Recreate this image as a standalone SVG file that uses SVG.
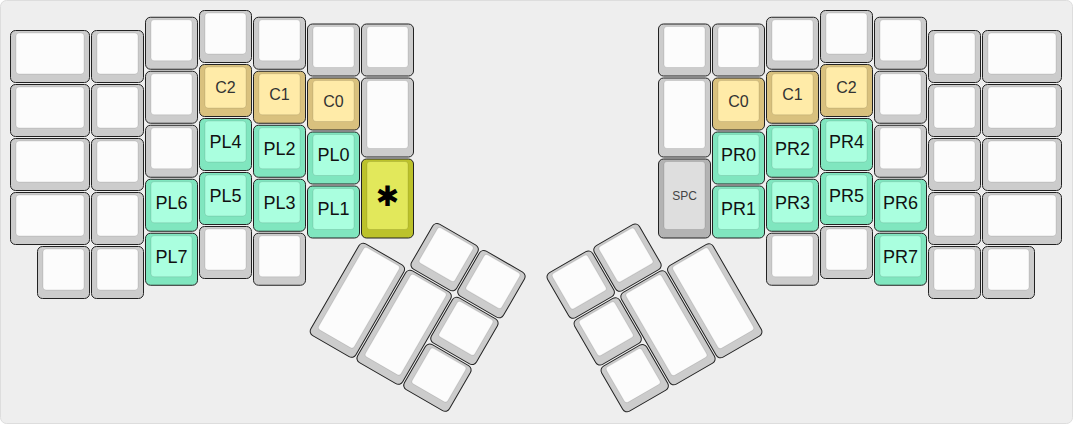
<svg xmlns="http://www.w3.org/2000/svg" width="1073" height="424" viewBox="0 0 1073 424">
<style>
.o{stroke:#222;stroke-width:1}
.i{stroke:rgba(0,0,0,0.1);stroke-width:1}
.k .o{fill:#cccccc}.k .i{fill:#fcfcfc}
.y .o{fill:#d9c17e}.y .i{fill:#ffeba8}
.g .o{fill:#80e6bf}.g .i{fill:#aaffdf}
.s .o{fill:#b3b3b3}.s .i{fill:#dedede}
.a .o{fill:#bcc22b}.a .i{fill:#e2e85b}
text{font-family:"Liberation Sans",Arial,sans-serif;text-anchor:middle}
.ty{font-size:16px;fill:#333}
.tg{font-size:18px;fill:#111}
.ts{font-size:12px;fill:#444}
</style>
<rect x="0.5" y="0.5" width="1072" height="423" rx="6" fill="#eeeeee" stroke="#dddddd"/>
<g id="keys-left">
<g id="L00" class="k"><rect class="o" x="10.5" y="30.5" width="79" height="52" rx="5"/><rect class="i" x="16" y="33" width="68" height="41" rx="3"/></g>
<g id="L01" class="k"><rect class="o" x="10.5" y="84.5" width="79" height="52" rx="5"/><rect class="i" x="16" y="87" width="68" height="41" rx="3"/></g>
<g id="L02" class="k"><rect class="o" x="10.5" y="138.5" width="79" height="52" rx="5"/><rect class="i" x="16" y="141" width="68" height="41" rx="3"/></g>
<g id="L03" class="k"><rect class="o" x="10.5" y="192.5" width="79" height="52" rx="5"/><rect class="i" x="16" y="195" width="68" height="41" rx="3"/></g>
<g id="L04" class="k"><rect class="o" x="37.5" y="246.5" width="52" height="52" rx="5"/><rect class="i" x="43" y="249" width="41" height="41" rx="3"/></g>
<g id="L10" class="k"><rect class="o" x="91.5" y="30.5" width="52" height="52" rx="5"/><rect class="i" x="97" y="33" width="41" height="41" rx="3"/></g>
<g id="L11" class="k"><rect class="o" x="91.5" y="84.5" width="52" height="52" rx="5"/><rect class="i" x="97" y="87" width="41" height="41" rx="3"/></g>
<g id="L12" class="k"><rect class="o" x="91.5" y="138.5" width="52" height="52" rx="5"/><rect class="i" x="97" y="141" width="41" height="41" rx="3"/></g>
<g id="L13" class="k"><rect class="o" x="91.5" y="192.5" width="52" height="52" rx="5"/><rect class="i" x="97" y="195" width="41" height="41" rx="3"/></g>
<g id="L14" class="k"><rect class="o" x="91.5" y="246.5" width="52" height="52" rx="5"/><rect class="i" x="97" y="249" width="41" height="41" rx="3"/></g>
<g id="L20" class="k"><rect class="o" x="145.5" y="17.25" width="52" height="52" rx="5"/><rect class="i" x="151" y="19.75" width="41" height="41" rx="3"/></g>
<g id="L21" class="k"><rect class="o" x="145.5" y="71.25" width="52" height="52" rx="5"/><rect class="i" x="151" y="73.75" width="41" height="41" rx="3"/></g>
<g id="L22" class="k"><rect class="o" x="145.5" y="125.25" width="52" height="52" rx="5"/><rect class="i" x="151" y="127.75" width="41" height="41" rx="3"/></g>
<g id="PL6" class="g"><rect class="o" x="145.5" y="179.25" width="52" height="52" rx="5"/><rect class="i" x="151" y="181.75" width="41" height="41" rx="3"/><text class="tg" x="171.5" y="208.65">PL6</text></g>
<g id="PL7" class="g"><rect class="o" x="145.5" y="233.25" width="52" height="52" rx="5"/><rect class="i" x="151" y="235.75" width="41" height="41" rx="3"/><text class="tg" x="171.5" y="262.65">PL7</text></g>
<g id="L30" class="k"><rect class="o" x="199.5" y="10.5" width="52" height="52" rx="5"/><rect class="i" x="205" y="13" width="41" height="41" rx="3"/></g>
<g id="LC2" class="y"><rect class="o" x="199.5" y="64.5" width="52" height="52" rx="5"/><rect class="i" x="205" y="67" width="41" height="41" rx="3"/><text class="ty" x="225.5" y="93.2">C2</text></g>
<g id="PL4" class="g"><rect class="o" x="199.5" y="118.5" width="52" height="52" rx="5"/><rect class="i" x="205" y="121" width="41" height="41" rx="3"/><text class="tg" x="225.5" y="147.9">PL4</text></g>
<g id="PL5" class="g"><rect class="o" x="199.5" y="172.5" width="52" height="52" rx="5"/><rect class="i" x="205" y="175" width="41" height="41" rx="3"/><text class="tg" x="225.5" y="201.9">PL5</text></g>
<g id="L34" class="k"><rect class="o" x="199.5" y="226.5" width="52" height="52" rx="5"/><rect class="i" x="205" y="229" width="41" height="41" rx="3"/></g>
<g id="L40" class="k"><rect class="o" x="253.5" y="17.25" width="52" height="52" rx="5"/><rect class="i" x="259" y="19.75" width="41" height="41" rx="3"/></g>
<g id="LC1" class="y"><rect class="o" x="253.5" y="71.25" width="52" height="52" rx="5"/><rect class="i" x="259" y="73.75" width="41" height="41" rx="3"/><text class="ty" x="279.5" y="99.95">C1</text></g>
<g id="PL2" class="g"><rect class="o" x="253.5" y="125.25" width="52" height="52" rx="5"/><rect class="i" x="259" y="127.75" width="41" height="41" rx="3"/><text class="tg" x="279.5" y="154.65">PL2</text></g>
<g id="PL3" class="g"><rect class="o" x="253.5" y="179.25" width="52" height="52" rx="5"/><rect class="i" x="259" y="181.75" width="41" height="41" rx="3"/><text class="tg" x="279.5" y="208.65">PL3</text></g>
<g id="L44" class="k"><rect class="o" x="253.5" y="233.25" width="52" height="52" rx="5"/><rect class="i" x="259" y="235.75" width="41" height="41" rx="3"/></g>
<g id="L50" class="k"><rect class="o" x="307.5" y="24" width="52" height="52" rx="5"/><rect class="i" x="313" y="26.5" width="41" height="41" rx="3"/></g>
<g id="LC0" class="y"><rect class="o" x="307.5" y="78" width="52" height="52" rx="5"/><rect class="i" x="313" y="80.5" width="41" height="41" rx="3"/><text class="ty" x="333.5" y="106.7">C0</text></g>
<g id="PL0" class="g"><rect class="o" x="307.5" y="132" width="52" height="52" rx="5"/><rect class="i" x="313" y="134.5" width="41" height="41" rx="3"/><text class="tg" x="333.5" y="161.4">PL0</text></g>
<g id="PL1" class="g"><rect class="o" x="307.5" y="186" width="52" height="52" rx="5"/><rect class="i" x="313" y="188.5" width="41" height="41" rx="3"/><text class="tg" x="333.5" y="215.4">PL1</text></g>
<g id="L60" class="k"><rect class="o" x="361.5" y="24" width="52" height="52" rx="5"/><rect class="i" x="367" y="26.5" width="41" height="41" rx="3"/></g>
<g id="L61" class="k"><rect class="o" x="361.5" y="78" width="52" height="79" rx="5"/><rect class="i" x="367" y="80.5" width="41" height="68" rx="3"/></g>
<g id="STAR" class="a"><rect class="o" x="361.5" y="159" width="52" height="79" rx="5"/><rect class="i" x="367" y="161.5" width="41" height="68" rx="3"/><text x="387.5" y="206" style="font-family:'DejaVu Sans',sans-serif;font-size:28px;fill:#000">✱</text></g>
</g>
<g id="thumb-left" transform="translate(361.2,240.7) rotate(30)">
<g id="LT1" class="k"><rect class="o" x="0.5" y="0.5" width="52" height="106" rx="5"/><rect class="i" x="6" y="3" width="41" height="95" rx="3"/></g>
<g id="LT2" class="k"><rect class="o" x="54.5" y="0.5" width="52" height="106" rx="5"/><rect class="i" x="60" y="3" width="41" height="95" rx="3"/></g>
<g id="LT3" class="k"><rect class="o" x="54.5" y="-53.5" width="52" height="52" rx="5"/><rect class="i" x="60" y="-51" width="41" height="41" rx="3"/></g>
<g id="LT4" class="k"><rect class="o" x="108.5" y="-53.5" width="52" height="52" rx="5"/><rect class="i" x="114" y="-51" width="41" height="41" rx="3"/></g>
<g id="LT5" class="k"><rect class="o" x="108.5" y="0.5" width="52" height="52" rx="5"/><rect class="i" x="114" y="3" width="41" height="41" rx="3"/></g>
<g id="LT6" class="k"><rect class="o" x="108.5" y="54.5" width="52" height="52" rx="5"/><rect class="i" x="114" y="57" width="41" height="41" rx="3"/></g>
</g>
<g id="keys-right">
<g id="R60" class="k"><rect class="o" x="658.5" y="24" width="52" height="52" rx="5"/><rect class="i" x="664" y="26.5" width="41" height="41" rx="3"/></g>
<g id="R61" class="k"><rect class="o" x="658.5" y="78" width="52" height="79" rx="5"/><rect class="i" x="664" y="80.5" width="41" height="68" rx="3"/></g>
<g id="SPC" class="s"><rect class="o" x="658.5" y="159" width="52" height="79" rx="5"/><rect class="i" x="664" y="161.5" width="41" height="68" rx="3"/><text class="ts" x="684.5" y="199.8">SPC</text></g>
<g id="R50" class="k"><rect class="o" x="712.5" y="24" width="52" height="52" rx="5"/><rect class="i" x="718" y="26.5" width="41" height="41" rx="3"/></g>
<g id="RC0" class="y"><rect class="o" x="712.5" y="78" width="52" height="52" rx="5"/><rect class="i" x="718" y="80.5" width="41" height="41" rx="3"/><text class="ty" x="738.5" y="106.7">C0</text></g>
<g id="PR0" class="g"><rect class="o" x="712.5" y="132" width="52" height="52" rx="5"/><rect class="i" x="718" y="134.5" width="41" height="41" rx="3"/><text class="tg" x="738.5" y="161.4">PR0</text></g>
<g id="PR1" class="g"><rect class="o" x="712.5" y="186" width="52" height="52" rx="5"/><rect class="i" x="718" y="188.5" width="41" height="41" rx="3"/><text class="tg" x="738.5" y="215.4">PR1</text></g>
<g id="R40" class="k"><rect class="o" x="766.5" y="17.25" width="52" height="52" rx="5"/><rect class="i" x="772" y="19.75" width="41" height="41" rx="3"/></g>
<g id="RC1" class="y"><rect class="o" x="766.5" y="71.25" width="52" height="52" rx="5"/><rect class="i" x="772" y="73.75" width="41" height="41" rx="3"/><text class="ty" x="792.5" y="99.95">C1</text></g>
<g id="PR2" class="g"><rect class="o" x="766.5" y="125.25" width="52" height="52" rx="5"/><rect class="i" x="772" y="127.75" width="41" height="41" rx="3"/><text class="tg" x="792.5" y="154.65">PR2</text></g>
<g id="PR3" class="g"><rect class="o" x="766.5" y="179.25" width="52" height="52" rx="5"/><rect class="i" x="772" y="181.75" width="41" height="41" rx="3"/><text class="tg" x="792.5" y="208.65">PR3</text></g>
<g id="R44" class="k"><rect class="o" x="766.5" y="233.25" width="52" height="52" rx="5"/><rect class="i" x="772" y="235.75" width="41" height="41" rx="3"/></g>
<g id="R30" class="k"><rect class="o" x="820.5" y="10.5" width="52" height="52" rx="5"/><rect class="i" x="826" y="13" width="41" height="41" rx="3"/></g>
<g id="RC2" class="y"><rect class="o" x="820.5" y="64.5" width="52" height="52" rx="5"/><rect class="i" x="826" y="67" width="41" height="41" rx="3"/><text class="ty" x="846.5" y="93.2">C2</text></g>
<g id="PR4" class="g"><rect class="o" x="820.5" y="118.5" width="52" height="52" rx="5"/><rect class="i" x="826" y="121" width="41" height="41" rx="3"/><text class="tg" x="846.5" y="147.9">PR4</text></g>
<g id="PR5" class="g"><rect class="o" x="820.5" y="172.5" width="52" height="52" rx="5"/><rect class="i" x="826" y="175" width="41" height="41" rx="3"/><text class="tg" x="846.5" y="201.9">PR5</text></g>
<g id="R34" class="k"><rect class="o" x="820.5" y="226.5" width="52" height="52" rx="5"/><rect class="i" x="826" y="229" width="41" height="41" rx="3"/></g>
<g id="R20" class="k"><rect class="o" x="874.5" y="17.25" width="52" height="52" rx="5"/><rect class="i" x="880" y="19.75" width="41" height="41" rx="3"/></g>
<g id="R21" class="k"><rect class="o" x="874.5" y="71.25" width="52" height="52" rx="5"/><rect class="i" x="880" y="73.75" width="41" height="41" rx="3"/></g>
<g id="R22" class="k"><rect class="o" x="874.5" y="125.25" width="52" height="52" rx="5"/><rect class="i" x="880" y="127.75" width="41" height="41" rx="3"/></g>
<g id="PR6" class="g"><rect class="o" x="874.5" y="179.25" width="52" height="52" rx="5"/><rect class="i" x="880" y="181.75" width="41" height="41" rx="3"/><text class="tg" x="900.5" y="208.65">PR6</text></g>
<g id="PR7" class="g"><rect class="o" x="874.5" y="233.25" width="52" height="52" rx="5"/><rect class="i" x="880" y="235.75" width="41" height="41" rx="3"/><text class="tg" x="900.5" y="262.65">PR7</text></g>
<g id="R10" class="k"><rect class="o" x="928.5" y="30.5" width="52" height="52" rx="5"/><rect class="i" x="934" y="33" width="41" height="41" rx="3"/></g>
<g id="R11" class="k"><rect class="o" x="928.5" y="84.5" width="52" height="52" rx="5"/><rect class="i" x="934" y="87" width="41" height="41" rx="3"/></g>
<g id="R12" class="k"><rect class="o" x="928.5" y="138.5" width="52" height="52" rx="5"/><rect class="i" x="934" y="141" width="41" height="41" rx="3"/></g>
<g id="R13" class="k"><rect class="o" x="928.5" y="192.5" width="52" height="52" rx="5"/><rect class="i" x="934" y="195" width="41" height="41" rx="3"/></g>
<g id="R14" class="k"><rect class="o" x="928.5" y="246.5" width="52" height="52" rx="5"/><rect class="i" x="934" y="249" width="41" height="41" rx="3"/></g>
<g id="R00" class="k"><rect class="o" x="982.5" y="30.5" width="79" height="52" rx="5"/><rect class="i" x="988" y="33" width="68" height="41" rx="3"/></g>
<g id="R01" class="k"><rect class="o" x="982.5" y="84.5" width="79" height="52" rx="5"/><rect class="i" x="988" y="87" width="68" height="41" rx="3"/></g>
<g id="R02" class="k"><rect class="o" x="982.5" y="138.5" width="79" height="52" rx="5"/><rect class="i" x="988" y="141" width="68" height="41" rx="3"/></g>
<g id="R03" class="k"><rect class="o" x="982.5" y="192.5" width="79" height="52" rx="5"/><rect class="i" x="988" y="195" width="68" height="41" rx="3"/></g>
<g id="R04" class="k"><rect class="o" x="982.5" y="246.5" width="52" height="52" rx="5"/><rect class="i" x="988" y="249" width="41" height="41" rx="3"/></g>
</g>
<g id="thumb-right" transform="translate(711.8,240.7) rotate(-30)">
<g id="RT1" class="k"><rect class="o" x="-53.5" y="0.5" width="52" height="106" rx="5"/><rect class="i" x="-48" y="3" width="41" height="95" rx="3"/></g>
<g id="RT2" class="k"><rect class="o" x="-107.5" y="0.5" width="52" height="106" rx="5"/><rect class="i" x="-102" y="3" width="41" height="95" rx="3"/></g>
<g id="RT3" class="k"><rect class="o" x="-107.5" y="-53.5" width="52" height="52" rx="5"/><rect class="i" x="-102" y="-51" width="41" height="41" rx="3"/></g>
<g id="RT4" class="k"><rect class="o" x="-161.5" y="-53.5" width="52" height="52" rx="5"/><rect class="i" x="-156" y="-51" width="41" height="41" rx="3"/></g>
<g id="RT5" class="k"><rect class="o" x="-161.5" y="0.5" width="52" height="52" rx="5"/><rect class="i" x="-156" y="3" width="41" height="41" rx="3"/></g>
<g id="RT6" class="k"><rect class="o" x="-161.5" y="54.5" width="52" height="52" rx="5"/><rect class="i" x="-156" y="57" width="41" height="41" rx="3"/></g>
</g>
<g id="connectors"/>
</svg>
